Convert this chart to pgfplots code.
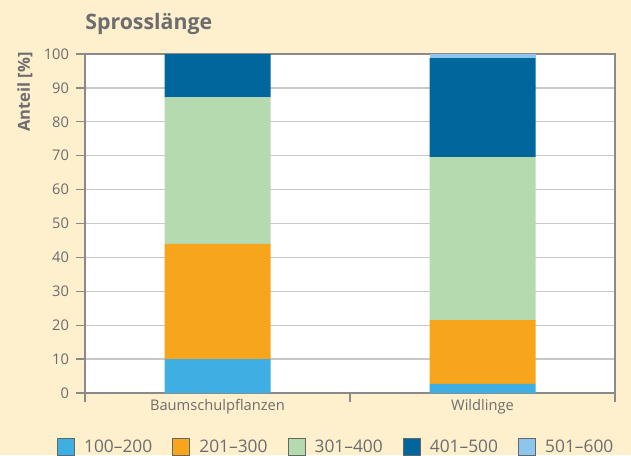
\documentclass[border=0pt]{standalone}
\usepackage{fontspec}
\setmainfont{Open Sans}
\usepackage{pgfplots}
\pgfplotsset{compat=1.18}
\definecolor{cream}{HTML}{FEEFCD}
\definecolor{textgray}{HTML}{6D6D6F}
\definecolor{gridgray}{HTML}{C8C8C8}
\definecolor{axisgray}{HTML}{8A8A8A}
\definecolor{cA}{HTML}{3FAEE3}
\definecolor{cB}{HTML}{F7A51D}
\definecolor{cC}{HTML}{B6DAAF}
\definecolor{cD}{HTML}{01669C}
\definecolor{cE}{HTML}{8EC5EC}
\begin{document}
\begin{tikzpicture}
\fill[cream, use as bounding box] (0pt,0pt) rectangle (473.25pt,341.25pt);
\begin{axis}[
  at={(63.75pt,46.5pt)}, anchor=south west,
  scale only axis, width=397.5pt, height=254.25pt,
  axis background/.style={fill=white},
  ybar stacked, bar width=0.4,
  xmin=-0.5, xmax=1.5, ymin=0, ymax=100,
  ytick={0,10,...,100},
  xtick={-0.5,0.5,1.5}, xticklabels={},
  extra x ticks={0,1}, extra x tick labels={Baumschulpflanzen,Wildlinge},
  extra x tick style={major tick length=0pt, grid=none},
  tick pos=left,
  ymajorgrids, grid style={draw=gridgray, line width=1pt},
  tick align=outside, major tick length=6.5pt,
  axis line style={draw=axisgray, line width=1pt},
  tick style={draw=axisgray, line width=1pt},
  /pgf/number format/assume math mode=true,
  tick label style={font=\fontsize{11}{13}\selectfont, text=textgray},
  yticklabel style={xshift=-2pt},
  xticklabel style={yshift=-1pt},
  legend columns=5,
  legend style={at={(0.4745,-0.159)}, anchor=center, draw=none, fill=none,
    font=\fontsize{13}{15}\selectfont, text=textgray,
    /tikz/every odd column/.append style={column sep=5pt},
    /tikz/every even column/.append style={column sep=13pt}},
  legend image code/.code={\draw[#1, draw=gray!80!black, line width=0.6pt] (0pt,-6.4pt) rectangle (12.75pt,6.4pt);},
]
\addplot[fill=cA, draw=none] coordinates {(0,10) (1,2.7)};
\addplot[fill=cB, draw=none] coordinates {(0,34) (1,18.8)};
\addplot[fill=cC, draw=none] coordinates {(0,43.2) (1,48.1)};
\addplot[fill=cD, draw=none] coordinates {(0,12.8) (1,29.2)};
\addplot[fill=cE, draw=none] coordinates {(0,0) (1,1.2)};
\legend{100–200,201–300,301–400,401–500,501–600}
\end{axis}
\node[anchor=base west, text=textgray, font=\fontsize{16}{19}\selectfont\bfseries, inner sep=0pt] at (63.75pt,319.5pt) {Sprosslänge};
\node[rotate=90, text=textgray, font=\fontsize{12.4}{15}\selectfont\bfseries, inner sep=0pt] at (18.75pt,272.25pt) {Anteil [\%]};
\end{tikzpicture}
\end{document}
